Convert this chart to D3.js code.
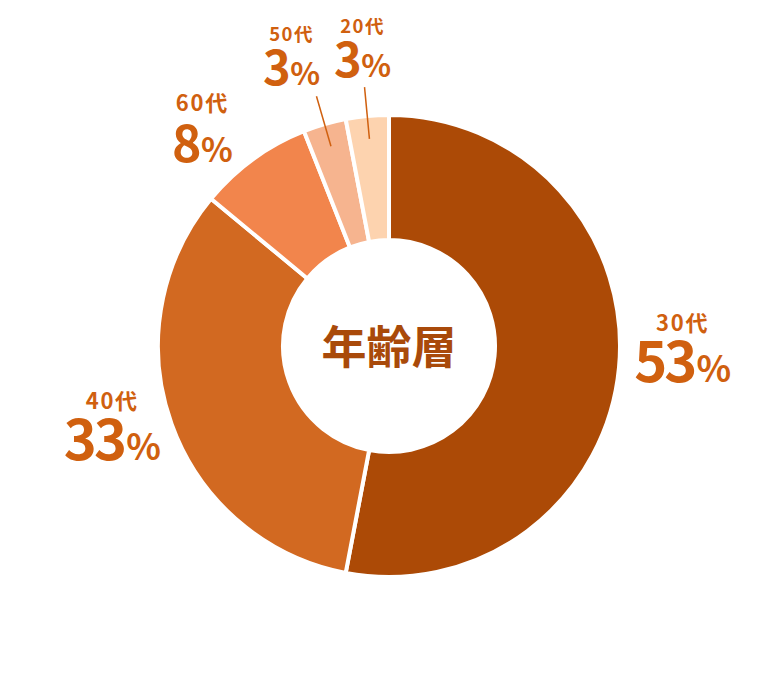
<!DOCTYPE html>
<html lang="ja">
  <head>
    <meta charset="utf-8">
    <style type="text/css">
      body {
        margin: 0;
        background: #fff;
      }
      text {
        font-family: "Noto Sans CJK JP", "Noto Sans", sans-serif;
        font-weight: 700;
      }
    </style>
  </head>
  <body>
    <script src="https://cdn.jsdelivr.net/npm/d3@7/dist/d3.min.js" type="text/javascript"></script>
    <svg id="chart"></svg>

    <script type="text/javascript">
// data, clockwise from 12 o'clock
var categories = ["30代", "40代", "60代", "50代", "20代"];
var values = [53, 33, 8, 3, 3];
var centerTitle = "年齢層";

var width = 778;
var height = 692;
var cx = 389, cy = 346;
var outerR = 231, innerR = 106; // the white stroke eats 2px on each edge

var colors = d3.scaleOrdinal()
  .domain(categories)
  .range(["#ac4a06", "#d26921", "#f2854c", "#f6b48f", "#fdd3af"]);

var labelColor = "#d0600f";

// small hand tweaks so the labels sit like in the original
var nudge = {
  "30代": [3, 9],
  "40代": [-2, 15],
  "60代": [-15, 52],
  "50代": [-16, 19],
  "20代": [1, 22]
};

var svg = d3.select("#chart")
  .attr("width", width)
  .attr("height", height);

var g = svg.append("g")
  .attr("transform", "translate(" + cx + "," + cy + ")");

var pie = d3.pie()
  .sort(null)
  .value(function(d) { return d.value; });

var data = categories.map(function(c, i) { return { name: c, value: values[i] }; });
var arcs = pie(data);

var arc = d3.arc()
  .innerRadius(innerR)
  .outerRadius(outerR);

g.selectAll("path.slice")
  .data(arcs)
  .enter()
  .append("path")
  .attr("class", "slice")
  .attr("d", arc)
  .style("fill", function(d) { return colors(d.data.name); })
  .style("stroke", "#fff")
  .style("stroke-width", 4);

function mid(d) { return (d.startAngle + d.endAngle) / 2; }
function polar(a, r) { return [Math.sin(a) * r, -Math.cos(a) * r]; }

// leader lines for the thin slices
var small = arcs.filter(function(d) { return d.data.value < 5; });
g.selectAll("line.leader")
  .data(small)
  .enter()
  .append("line")
  .attr("class", "leader")
  .attr("x1", function(d) { return polar(mid(d), 208)[0]; })
  .attr("y1", function(d) { return polar(mid(d), 208)[1]; })
  .attr("x2", function(d) { return polar(mid(d), 260)[0]; })
  .attr("y2", function(d) { return polar(mid(d), 260)[1]; })
  .style("stroke", labelColor)
  .style("stroke-width", 1.5);

function bigSize(v) { return v >= 30 ? 56 : (v >= 5 ? 50 : 47); }
function smallSize(v) { return v >= 5 ? 22 : 18.5; }

// one text per label: name on top, percentage below
var labels = g.selectAll("text.label")
  .data(arcs)
  .enter()
  .append("text")
  .attr("class", "label")
  .attr("text-anchor", "middle")
  .attr("transform", function(d) {
    var p = polar(mid(d), 292);
    var n = nudge[d.data.name];
    return "translate(" + (p[0] + n[0]) + "," + (p[1] + n[1]) + ")";
  })
  .style("fill", labelColor);

labels.append("tspan")
  .attr("x", 0)
  .attr("y", function(d) { return d.data.value >= 5 ? -51 : -44; })
  .style("font-size", function(d) { return smallSize(d.data.value) + "px"; })
  .style("letter-spacing", "0.08em")
  .text(function(d) { return d.data.name; });

labels.append("tspan")
  .attr("x", 0)
  .attr("y", 0)
  .style("font-size", function(d) { return bigSize(d.data.value) + "px"; })
  .style("letter-spacing", "-0.05em")
  .text(function(d) { return d.data.value; });

labels.append("tspan")
  .attr("dx", 2)
  .style("font-size", function(d) { return Math.round(bigSize(d.data.value) * 0.65) + "px"; })
  .text("%");

g.append("text")
  .attr("text-anchor", "middle")
  .attr("y", 18)
  .style("font-size", "45px")
  .style("fill", "#a94a0a")
  .text(centerTitle);
    </script>
  </body>
</html>
